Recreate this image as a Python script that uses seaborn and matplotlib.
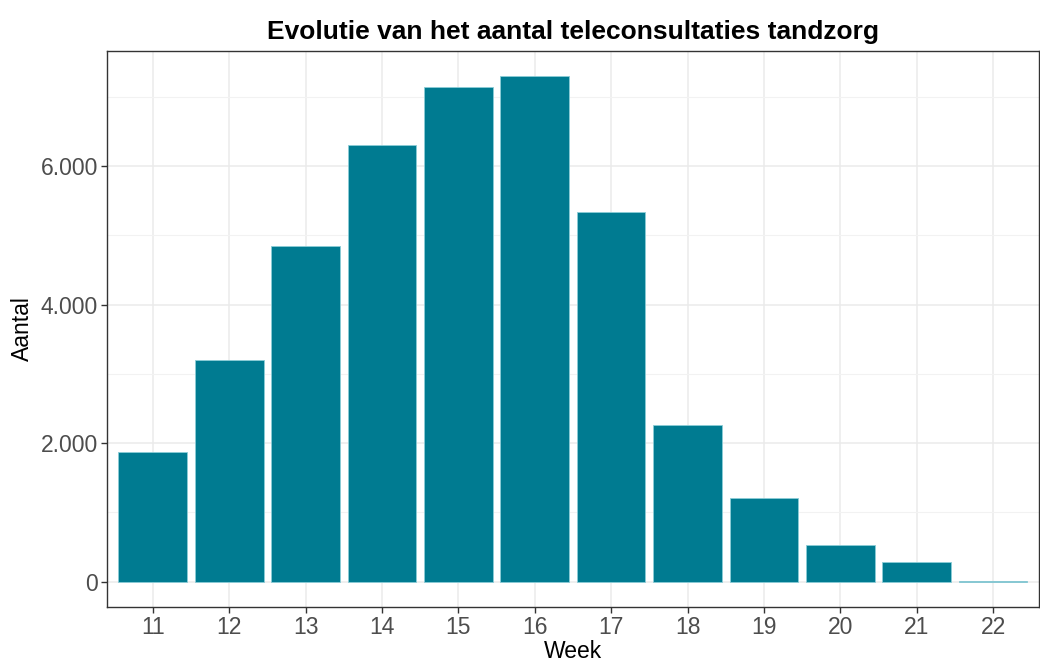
import pandas as pd
import numpy as np
import matplotlib
matplotlib.use("Agg")
import matplotlib.pyplot as plt
import seaborn as sns
from matplotlib.ticker import FuncFormatter, MultipleLocator

# Data
weeks = ["11", "12", "13", "14", "15", "16", "17", "18", "19", "20", "21", "22"]
aantal = [1872, 3207, 4852, 6298, 7142, 7296, 5333, 2256, 1205, 524, 279, 5]

df = pd.DataFrame({"Week": weeks, "Aantal": aantal})

sns.set_theme(style="white")
plt.rcParams['font.family'] = ['Liberation Sans', 'DejaVu Sans']

fig = plt.figure(figsize=(10.4, 6.65), dpi=100)
ax = fig.add_axes([0.1029, 0.0872, 0.896, 0.8361])

sns.barplot(data=df, x="Week", y="Aantal", color="#007B91", saturation=1,
            width=0.9, edgecolor="#8CCDD7", linewidth=0.6, ax=ax, zorder=3)

ax.set_xlim(-0.6, len(weeks) - 0.4)
ymax = max(aantal)
ax.set_ylim(-0.05 * ymax, 1.05 * ymax)

ax.yaxis.set_major_locator(MultipleLocator(2000))
ax.yaxis.set_minor_locator(MultipleLocator(1000))
ax.yaxis.set_major_formatter(FuncFormatter(lambda v, p: f"{int(v):,}".replace(",", ".")))

ax.grid(True, which="major", color="#EBEBEB", linewidth=1.1, zorder=0)
ax.grid(True, which="minor", axis="y", color="#F2F2F2", linewidth=0.8, zorder=0)
ax.set_axisbelow(True)

for s in ax.spines.values():
    s.set_color("#333333")
    s.set_linewidth(1.0)
    s.set_visible(True)

ax.tick_params(axis="both", which="major", length=4.5, width=1.0, color="#333333",
               labelsize=16.5, labelcolor="#4D4D4D", pad=2, bottom=True, left=True)
ax.tick_params(axis="y", which="minor", length=0)

ax.set_xlabel("Week", fontsize=16.5, color="black", labelpad=1)
ax.set_ylabel("Aantal", fontsize=16.5, color="black", labelpad=5)
ax.set_title("Evolutie van het aantal teleconsultaties tandzorg", fontsize=19,
             fontweight="bold", color="black", pad=9)

plt.savefig("out.png", dpi=100)
